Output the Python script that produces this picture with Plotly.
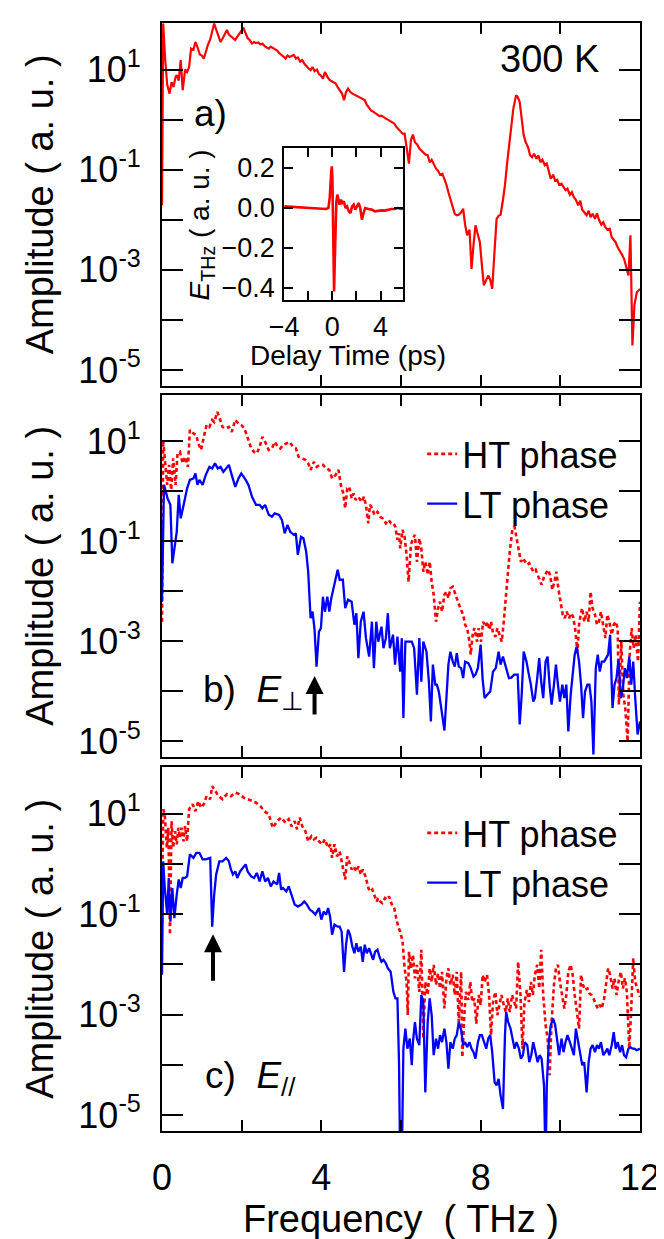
import plotly.graph_objects as go

# ---------------- data (frequency THz, log10 amplitude) ----------------
panel_a_300K = [
    (0.00, -1.71), (0.03, 1.92), (0.08, 1.2), (0.13, 0.7), (0.19, 0.52), (0.24, 0.75), (0.29, 0.65),
    (0.34, 0.85), (0.37, 0.89), (0.42, 0.78), (0.47, 1.19), (0.52, 0.59), (0.58, 1.0), (0.63, 0.95),
    (0.68, 1.05), (0.73, 1.42), (0.79, 1.40), (0.84, 1.55), (0.89, 1.45), (0.95, 1.30), (1.0, 1.28),
    (1.05, 1.22), (1.10, 1.35), (1.15, 1.49), (1.21, 1.60), (1.26, 1.75), (1.31, 1.92), (1.36, 1.80),
    (1.42, 1.65), (1.47, 1.55), (1.52, 1.62), (1.58, 1.72), (1.63, 1.79), (1.68, 1.70), (1.73, 1.66),
    (1.79, 1.62), (1.84, 1.59), (1.89, 1.66), (1.94, 1.72), (2.0, 1.78), (2.05, 1.82), (2.10, 1.72),
    (2.15, 1.63), (2.21, 1.58), (2.26, 1.52), (2.31, 1.55), (2.36, 1.53), (2.42, 1.54), (2.47, 1.50),
    (2.52, 1.52), (2.57, 1.47), (2.63, 1.44), (2.68, 1.42), (2.73, 1.46), (2.78, 1.43), (2.84, 1.40),
    (2.89, 1.38), (2.94, 1.33), (3.0, 1.30), (3.05, 1.26), (3.10, 1.22), (3.15, 1.28), (3.2, 1.25),
    (3.26, 1.27), (3.31, 1.29), (3.36, 1.22), (3.41, 1.24), (3.47, 1.16), (3.52, 1.19), (3.57, 1.12),
    (3.62, 1.07), (3.68, 1.02), (3.73, 0.99), (3.78, 1.05), (3.83, 0.97), (3.89, 1.0), (3.94, 0.91),
    (3.99, 0.88), (4.04, 0.82), (4.09, 0.95), (4.15, 0.86), (4.2, 0.80), (4.25, 0.77), (4.3, 0.74),
    (4.36, 0.72), (4.41, 0.65), (4.46, 0.60), (4.52, 0.52), (4.57, 0.39), (4.62, 0.55), (4.67, 0.62),
    (4.73, 0.55), (4.78, 0.52), (4.83, 0.50), (4.88, 0.47), (4.94, 0.45), (4.99, 0.42), (5.04, 0.40),
    (5.09, 0.39), (5.14, 0.30), (5.2, 0.22), (5.25, 0.18), (5.3, 0.16), (5.36, 0.12), (5.41, 0.10),
    (5.46, 0.07), (5.51, 0.08), (5.57, 0.04), (5.62, 0.02), (5.67, 0.0), (5.72, -0.02), (5.78, -0.06),
    (5.83, -0.08), (5.88, -0.14), (5.93, -0.18), (5.99, -0.22), (6.04, -0.28), (6.09, -0.28),
    (6.14, -0.55), (6.2, -0.88), (6.25, -0.40), (6.3, -0.30), (6.35, -0.45), (6.41, -0.50),
    (6.46, -0.58), (6.51, -0.62), (6.56, -0.66), (6.62, -0.70), (6.67, -0.71), (6.72, -0.85),
    (6.77, -0.80), (6.83, -0.90), (6.88, -0.98), (6.93, -1.02), (6.98, -1.10), (7.04, -1.08),
    (7.09, -1.18), (7.14, -1.30), (7.19, -1.45), (7.24, -1.58), (7.30, -1.75), (7.35, -1.88),
    (7.4, -1.91), (7.45, -1.90), (7.51, -1.85), (7.56, -1.78), (7.61, -2.1), (7.66, -2.31),
    (7.72, -2.2), (7.77, -2.98), (7.82, -2.5), (7.87, -2.11), (7.93, -2.3), (7.98, -2.45),
    (8.03, -2.9), (8.08, -3.31), (8.14, -3.2), (8.19, -3.11), (8.24, -3.2), (8.29, -3.38),
    (8.35, -2.6), (8.4, -1.98), (8.45, -1.92), (8.5, -1.90), (8.56, -1.6), (8.61, -1.31),
    (8.66, -0.9), (8.71, -0.58), (8.77, -0.2), (8.82, 0.22), (8.89, 0.49), (8.93, 0.45),
    (8.98, 0.35), (9.03, 0.0), (9.08, -0.31), (9.13, -0.45), (9.19, -0.55), (9.24, -0.71),
    (9.29, -0.75), (9.34, -0.68), (9.40, -0.78), (9.45, -0.72), (9.50, -0.85), (9.55, -0.80),
    (9.61, -0.91), (9.66, -0.88), (9.71, -1.05), (9.76, -1.18), (9.82, -1.10), (9.87, -1.22),
    (9.92, -1.20), (9.97, -1.30), (10.03, -1.28), (10.08, -1.35), (10.13, -1.41), (10.18, -1.38),
    (10.24, -1.50), (10.29, -1.45), (10.34, -1.55), (10.39, -1.60), (10.45, -1.71), (10.50, -1.62),
    (10.55, -1.80), (10.6, -1.85), (10.66, -1.91), (10.71, -1.82), (10.76, -1.95), (10.81, -1.88),
    (10.87, -1.98), (10.92, -1.87), (10.97, -2.0), (11.03, -2.1), (11.08, -2.05), (11.13, -2.15),
    (11.18, -2.2), (11.24, -2.18), (11.29, -2.35), (11.34, -2.40), (11.39, -2.45), (11.44, -2.55),
    (11.5, -2.62), (11.55, -2.7), (11.6, -2.78), (11.65, -2.95), (11.71, -3.11), (11.76, -2.31),
    (11.81, -4.51), (11.86, -3.7), (11.92, -3.45), (12.0, -3.38),
]

panel_b_ht = [
    (0.0, -2.61), (0.03, 1.03), (0.07, 0.66), (0.13, 0.13), (0.18, 0.53), (0.23, 0.03), (0.28, 0.66),
    (0.34, 0.13), (0.39, 0.76), (0.45, 0.79), (0.52, 0.56), (0.58, 0.69), (0.65, 0.49), (0.70, 1.23),
    (0.79, 1.16), (0.86, 1.13), (0.91, 0.96), (0.98, 0.83), (1.05, 1.09), (1.12, 1.33), (1.19, 1.29),
    (1.26, 1.43), (1.31, 1.39), (1.39, 1.59), (1.45, 1.46), (1.52, 1.29), (1.61, 1.26), (1.68, 1.29),
    (1.75, 1.19), (1.84, 1.43), (1.92, 1.36), (1.99, 1.33), (2.07, 1.26), (2.15, 1.09), (2.24, 0.86),
    (2.31, 0.79), (2.38, 0.76), (2.45, 0.89), (2.52, 1.09), (2.59, 0.99), (2.68, 0.83), (2.76, 0.86),
    (2.83, 0.99), (2.91, 0.89), (2.97, 0.86), (3.04, 0.93), (3.12, 0.96), (3.20, 0.99), (3.29, 0.89),
    (3.36, 0.86), (3.43, 0.69), (3.52, 0.66), (3.60, 0.63), (3.67, 0.56), (3.73, 0.43), (3.81, 0.59),
    (3.88, 0.49), (3.96, 0.53), (4.04, 0.53), (4.12, 0.46), (4.20, 0.43), (4.27, 0.26), (4.36, 0.33),
    (4.43, 0.43), (4.49, 0.13), (4.55, -0.04), (4.60, -0.34), (4.65, 0.06), (4.70, 0.09), (4.76, -0.14),
    (4.81, -0.04), (4.86, -0.17), (4.93, -0.11), (5.01, -0.21), (5.07, -0.11), (5.12, -0.27),
    (5.18, -0.64), (5.22, -0.27), (5.28, -0.34), (5.33, -0.47), (5.41, -0.41), (5.48, -0.51),
    (5.54, -0.54), (5.62, -0.64), (5.69, -0.57), (5.75, -0.64), (5.81, -0.64), (5.86, -0.71),
    (5.91, -0.97), (5.95, -0.84), (5.98, -1.14), (6.04, -0.77), (6.09, -0.91), (6.14, -1.27),
    (6.19, -1.81), (6.25, -1.07), (6.30, -0.94), (6.35, -0.87), (6.40, -1.41), (6.46, -0.94),
    (6.51, -1.14), (6.56, -1.61), (6.61, -1.41), (6.67, -1.67), (6.72, -1.41), (6.77, -1.81),
    (6.82, -2.07), (6.88, -2.61), (6.93, -2.34), (6.98, -2.21), (7.03, -2.41), (7.09, -2.07),
    (7.14, -2.01), (7.19, -2.14), (7.24, -1.94), (7.30, -1.91), (7.35, -2.04), (7.40, -2.14),
    (7.49, -2.34), (7.56, -2.47), (7.61, -2.67), (7.66, -2.74), (7.72, -3.01), (7.75, -3.27),
    (7.80, -2.87), (7.84, -2.74), (7.91, -3.01), (7.95, -2.74), (8.01, -3.01), (8.06, -2.61),
    (8.12, -2.71), (8.17, -2.61), (8.22, -2.77), (8.26, -2.61), (8.31, -2.84), (8.37, -2.91),
    (8.42, -2.74), (8.47, -2.87), (8.53, -3.01), (8.58, -2.61), (8.63, -2.07), (8.68, -1.67),
    (8.73, -1.21), (8.80, -0.74), (8.85, -0.71), (8.90, -0.91), (8.96, -1.14), (9.01, -1.41),
    (9.06, -1.34), (9.11, -1.41), (9.17, -1.47), (9.22, -1.44), (9.27, -1.54), (9.32, -1.61),
    (9.38, -1.57), (9.43, -1.67), (9.48, -1.77), (9.53, -1.87), (9.59, -1.71), (9.64, -1.64),
    (9.69, -1.57), (9.74, -1.67), (9.80, -1.97), (9.85, -1.81), (9.90, -1.61), (9.95, -1.94),
    (10.01, -2.27), (10.06, -2.47), (10.11, -2.54), (10.16, -2.41), (10.22, -2.54), (10.27, -2.44),
    (10.32, -2.51), (10.37, -2.74), (10.43, -3.21), (10.47, -2.67), (10.51, -2.47), (10.55, -2.34),
    (10.60, -2.61), (10.66, -2.41), (10.71, -2.61), (10.76, -2.01), (10.81, -2.34), (10.87, -2.47),
    (10.92, -2.67), (10.97, -2.61), (11.02, -2.41), (11.08, -2.67), (11.13, -2.94), (11.18, -2.47),
    (11.23, -2.61), (11.29, -2.87), (11.34, -2.67), (11.39, -2.61), (11.44, -2.74), (11.47, -4.27),
    (11.53, -3.01), (11.58, -4.07), (11.63, -4.34), (11.69, -5.01), (11.74, -3.27), (11.79, -2.74),
    (11.84, -3.14), (11.89, -2.87), (11.95, -3.41), (12.0, -2.21),
]

panel_b_lt = [
    (0.0, -2.21), (0.05, 0.13), (0.14, -0.14), (0.21, -0.27), (0.26, -1.44), (0.31, -1.14), (0.37, -0.81),
    (0.42, -0.07), (0.47, -0.54), (0.56, -0.21), (0.63, 0.06), (0.70, 0.23), (0.79, 0.26), (0.84, 0.36),
    (0.89, 0.13), (0.94, 0.23), (1.02, 0.13), (1.10, 0.33), (1.19, 0.49), (1.26, 0.46), (1.33, 0.56),
    (1.40, 0.46), (1.47, 0.49), (1.54, 0.39), (1.63, 0.49), (1.68, 0.53), (1.75, 0.33), (1.84, 0.09),
    (1.92, 0.26), (1.99, 0.36), (2.10, 0.23), (2.17, 0.13), (2.26, -0.11), (2.36, -0.27), (2.45, -0.27),
    (2.52, -0.34), (2.59, -0.27), (2.68, -0.47), (2.76, -0.51), (2.83, -0.44), (2.94, -0.47),
    (3.01, -0.57), (3.08, -0.84), (3.15, -0.67), (3.22, -0.81), (3.31, -0.87), (3.36, -0.84),
    (3.41, -1.27), (3.49, -0.91), (3.55, -0.94), (3.62, -1.21), (3.67, -1.61), (3.73, -2.54),
    (3.78, -2.41), (3.83, -2.77), (3.88, -3.51), (3.94, -2.81), (3.99, -2.74), (4.04, -2.11),
    (4.09, -2.41), (4.15, -2.11), (4.20, -2.41), (4.25, -2.14), (4.34, -1.81), (4.41, -1.57),
    (4.46, -1.77), (4.54, -1.77), (4.60, -2.34), (4.67, -2.17), (4.76, -2.21), (4.83, -2.67),
    (4.88, -2.44), (4.93, -3.34), (4.99, -2.61), (5.06, -2.41), (5.12, -2.94), (5.20, -3.31),
    (5.27, -2.61), (5.32, -3.54), (5.38, -2.61), (5.43, -3.01), (5.51, -2.71), (5.56, -3.14),
    (5.62, -2.94), (5.67, -2.44), (5.72, -3.14), (5.80, -2.87), (5.85, -3.47), (5.91, -2.91),
    (5.98, -3.61), (6.02, -2.94), (6.06, -4.54), (6.11, -3.01), (6.19, -3.01), (6.27, -3.01),
    (6.33, -3.14), (6.40, -4.07), (6.46, -2.94), (6.51, -3.81), (6.56, -3.01), (6.64, -3.21),
    (6.70, -3.81), (6.75, -4.61), (6.80, -3.47), (6.86, -3.87), (6.90, -3.87), (6.95, -4.01),
    (7.01, -4.34), (7.09, -4.79), (7.14, -4.14), (7.19, -3.47), (7.24, -3.21), (7.30, -3.41),
    (7.35, -3.51), (7.40, -3.24), (7.45, -3.51), (7.51, -3.54), (7.56, -3.74), (7.61, -3.41),
    (7.69, -3.44), (7.75, -3.54), (7.82, -3.71), (7.87, -3.67), (7.93, -3.54), (8.00, -3.07),
    (8.05, -3.77), (8.10, -4.14), (8.17, -4.07), (8.24, -4.01), (8.31, -3.61), (8.38, -3.54),
    (8.45, -3.21), (8.50, -3.47), (8.56, -3.31), (8.63, -3.54), (8.71, -3.74), (8.77, -3.73),
    (8.84, -3.67), (8.89, -3.67), (8.93, -3.67), (8.98, -4.67), (9.03, -4.07), (9.08, -3.21),
    (9.15, -3.41), (9.21, -3.67), (9.26, -3.87), (9.32, -4.21), (9.36, -4.14), (9.42, -3.74),
    (9.47, -3.34), (9.52, -3.81), (9.57, -4.14), (9.63, -3.41), (9.68, -3.31), (9.73, -3.87),
    (9.78, -4.27), (9.84, -3.87), (9.89, -3.47), (9.94, -3.87), (9.99, -4.21), (10.05, -3.87),
    (10.10, -4.14), (10.15, -3.87), (10.20, -4.81), (10.26, -4.07), (10.31, -3.61), (10.36, -3.27),
    (10.41, -3.11), (10.47, -3.41), (10.52, -3.87), (10.57, -4.54), (10.62, -4.01), (10.68, -3.87),
    (10.73, -3.87), (10.78, -4.21), (10.83, -5.27), (10.89, -3.54), (10.94, -3.27), (10.99, -3.61),
    (11.04, -3.41), (11.10, -3.41), (11.15, -3.34), (11.20, -3.27), (11.25, -2.87), (11.31, -4.34),
    (11.36, -3.87), (11.41, -3.74), (11.46, -3.37), (11.52, -4.14), (11.57, -3.94), (11.62, -3.54),
    (11.67, -3.74), (11.73, -3.31), (11.78, -3.87), (11.83, -3.41), (11.88, -4.14), (11.94, -4.87),
    (12.0, -4.61),
]

panel_c_ht = [
    (0.0, -1.15), (0.03, 1.09), (0.07, 0.99), (0.12, 0.32), (0.16, 0.72), (0.20, -1.41), (0.24, 0.85),
    (0.28, 0.32), (0.33, 0.65), (0.37, 0.39), (0.41, 0.72), (0.45, 0.52), (0.49, 0.72), (0.54, 0.45),
    (0.58, 0.75), (0.63, 0.45), (0.68, 1.09), (0.77, 1.19), (0.84, 1.05), (0.91, 1.25), (0.98, 1.12),
    (1.05, 1.19), (1.12, 1.35), (1.21, 1.29), (1.26, 1.55), (1.33, 1.45), (1.42, 1.35), (1.52, 1.29),
    (1.63, 1.39), (1.73, 1.35), (1.84, 1.42), (1.94, 1.39), (2.05, 1.32), (2.15, 1.29), (2.26, 1.25),
    (2.36, 1.22), (2.47, 1.15), (2.57, 1.05), (2.68, 0.99), (2.78, 0.72), (2.89, 0.85), (2.99, 0.92),
    (3.10, 0.82), (3.18, 0.89), (3.25, 0.75), (3.33, 0.85), (3.39, 0.69), (3.46, 0.92), (3.52, 0.75),
    (3.60, 0.65), (3.67, 0.45), (3.75, 0.55), (3.81, 0.49), (3.88, 0.52), (3.94, 0.45), (4.02, 0.39),
    (4.09, 0.49), (4.17, 0.32), (4.23, 0.39), (4.27, 0.12), (4.33, 0.39), (4.39, 0.15), (4.46, 0.25),
    (4.54, -0.05), (4.60, -0.31), (4.65, 0.15), (4.70, 0.02), (4.76, -0.11), (4.81, -0.05),
    (4.88, -0.15), (4.93, -0.05), (4.99, -0.21), (5.04, -0.11), (5.11, -0.25), (5.18, -0.48),
    (5.22, -0.55), (5.28, -0.51), (5.33, -0.61), (5.39, -0.75), (5.43, -0.68), (5.48, -0.75),
    (5.53, -0.78), (5.60, -0.68), (5.65, -0.71), (5.70, -0.65), (5.77, -0.81), (5.83, -0.88),
    (5.88, -1.08), (5.93, -1.25), (5.98, -1.35), (6.04, -1.55), (6.09, -2.08), (6.14, -2.35),
    (6.17, -3.01), (6.20, -1.75), (6.25, -2.08), (6.30, -1.81), (6.35, -2.28), (6.40, -2.01),
    (6.46, -2.55), (6.51, -1.71), (6.56, -3.48), (6.61, -2.35), (6.67, -2.61), (6.72, -2.08),
    (6.77, -2.35), (6.82, -2.01), (6.88, -2.41), (6.93, -2.18), (6.98, -2.48), (7.03, -2.15),
    (7.09, -2.88), (7.14, -2.28), (7.19, -2.08), (7.24, -2.41), (7.30, -2.21), (7.35, -2.61),
    (7.40, -2.15), (7.45, -3.15), (7.51, -2.15), (7.54, -3.85), (7.59, -3.01), (7.63, -2.55),
    (7.69, -2.71), (7.74, -2.35), (7.79, -2.75), (7.84, -2.68), (7.89, -3.18), (7.95, -2.61),
    (8.00, -2.81), (8.05, -2.21), (8.10, -2.35), (8.16, -2.21), (8.21, -2.61), (8.26, -3.41),
    (8.31, -2.75), (8.37, -2.55), (8.42, -3.01), (8.47, -2.78), (8.52, -2.61), (8.58, -2.81),
    (8.63, -2.95), (8.68, -2.68), (8.73, -2.95), (8.79, -2.61), (8.84, -2.75), (8.89, -2.88),
    (8.94, -1.95), (9.00, -2.61), (9.05, -3.68), (9.10, -2.75), (9.16, -2.51), (9.21, -2.75),
    (9.26, -2.35), (9.31, -2.61), (9.36, -2.21), (9.42, -2.01), (9.47, -2.48), (9.52, -1.71),
    (9.57, -2.61), (9.63, -3.21), (9.68, -3.48), (9.73, -4.21), (9.78, -3.15), (9.84, -2.41),
    (9.89, -2.08), (9.94, -2.01), (9.99, -2.35), (10.05, -2.61), (10.10, -2.88), (10.15, -2.61),
    (10.20, -2.15), (10.26, -2.01), (10.31, -2.21), (10.36, -2.61), (10.41, -2.88), (10.47, -3.28),
    (10.52, -2.21), (10.57, -2.41), (10.62, -2.51), (10.68, -2.48), (10.73, -2.58), (10.78, -2.61),
    (10.83, -2.68), (10.89, -2.81), (10.94, -2.88), (10.99, -2.81), (11.04, -2.88), (11.10, -2.68),
    (11.15, -2.35), (11.20, -2.08), (11.25, -2.21), (11.31, -2.48), (11.36, -2.28), (11.41, -2.61),
    (11.46, -2.35), (11.52, -2.15), (11.57, -2.48), (11.62, -2.28), (11.67, -2.55), (11.73, -3.68),
    (11.78, -2.88), (11.83, -1.88), (11.88, -2.35), (11.94, -2.48), (12.0, -2.65),
]

panel_c_lt = [
    (0.0, -2.21), (0.03, 0.05), (0.07, -0.48), (0.13, -1.01), (0.17, -0.28), (0.21, -1.15), (0.26, -0.48),
    (0.31, -1.08), (0.37, -0.61), (0.42, -0.31), (0.47, -0.48), (0.52, -0.28), (0.58, -0.28),
    (0.63, -0.25), (0.70, 0.19), (0.79, 0.12), (0.86, 0.22), (0.94, 0.22), (1.02, 0.09), (1.10, 0.09),
    (1.21, 0.12), (1.26, -1.25), (1.31, -0.61), (1.36, -0.21), (1.44, 0.05), (1.52, 0.05), (1.61, 0.12),
    (1.68, 0.05), (1.73, -0.11), (1.78, -0.21), (1.84, -0.15), (1.89, -0.28), (1.96, -0.15),
    (2.03, -0.08), (2.10, -0.01), (2.15, -0.15), (2.24, -0.25), (2.31, -0.28), (2.38, -0.18),
    (2.45, -0.35), (2.52, -0.15), (2.59, -0.35), (2.66, -0.28), (2.73, -0.45), (2.80, -0.35),
    (2.89, -0.41), (2.94, -0.18), (2.99, -0.51), (3.04, -0.48), (3.12, -0.55), (3.18, -0.45),
    (3.25, -0.61), (3.33, -0.81), (3.41, -0.85), (3.50, -0.81), (3.57, -0.75), (3.64, -0.81),
    (3.71, -0.91), (3.78, -0.95), (3.85, -1.01), (3.94, -0.88), (4.00, -1.11), (4.06, -0.95),
    (4.12, -1.01), (4.17, -0.88), (4.22, -1.05), (4.27, -1.41), (4.33, -1.21), (4.41, -1.25),
    (4.46, -1.25), (4.51, -1.35), (4.57, -2.15), (4.62, -1.61), (4.67, -1.31), (4.72, -1.41),
    (4.78, -1.65), (4.83, -1.78), (4.88, -1.58), (4.93, -1.75), (4.99, -1.65), (5.04, -1.95),
    (5.09, -1.61), (5.14, -1.78), (5.20, -1.68), (5.25, -1.81), (5.30, -1.91), (5.35, -1.75),
    (5.41, -1.71), (5.46, -1.85), (5.51, -1.95), (5.56, -1.91), (5.62, -1.98), (5.67, -2.08),
    (5.74, -2.15), (5.81, -2.55), (5.86, -2.68), (5.91, -2.68), (5.95, -3.95), (5.98, -6.0),
    (6.02, -6.0), (6.06, -3.68), (6.11, -3.28), (6.16, -3.68), (6.22, -3.48), (6.27, -4.01),
    (6.30, -3.55), (6.35, -3.15), (6.40, -3.48), (6.46, -3.61), (6.51, -2.61), (6.56, -2.75),
    (6.61, -4.55), (6.67, -3.15), (6.72, -2.68), (6.77, -3.01), (6.82, -3.81), (6.88, -3.48),
    (6.93, -3.68), (6.98, -3.41), (7.03, -3.55), (7.09, -3.28), (7.14, -3.55), (7.19, -4.08),
    (7.24, -3.55), (7.30, -3.68), (7.35, -3.48), (7.40, -3.41), (7.45, -3.15), (7.51, -3.31),
    (7.56, -3.61), (7.61, -3.55), (7.66, -3.65), (7.72, -3.55), (7.77, -3.68), (7.82, -3.75),
    (7.87, -3.88), (7.93, -3.55), (7.98, -3.41), (8.03, -3.41), (8.08, -3.55), (8.14, -3.68),
    (8.19, -3.48), (8.24, -3.41), (8.29, -3.75), (8.35, -4.35), (8.40, -4.41), (8.45, -4.28),
    (8.50, -4.61), (8.56, -4.88), (8.61, -3.41), (8.64, -2.95), (8.69, -3.15), (8.75, -3.28),
    (8.80, -3.48), (8.85, -3.68), (8.90, -3.55), (8.96, -3.68), (9.01, -3.88), (9.06, -3.81),
    (9.11, -3.55), (9.17, -3.61), (9.22, -3.95), (9.27, -3.81), (9.32, -3.55), (9.38, -3.75),
    (9.43, -3.95), (9.48, -3.81), (9.53, -3.88), (9.59, -4.41), (9.63, -6.0), (9.66, -4.41),
    (9.71, -3.55), (9.76, -3.21), (9.82, -3.08), (9.87, -3.21), (9.92, -3.55), (9.97, -3.81),
    (10.03, -3.48), (10.08, -3.75), (10.13, -3.55), (10.18, -3.41), (10.24, -3.55), (10.29, -3.68),
    (10.34, -3.81), (10.39, -3.28), (10.45, -3.55), (10.50, -3.75), (10.55, -4.01), (10.60, -3.95),
    (10.66, -4.55), (10.71, -3.95), (10.76, -3.68), (10.81, -3.61), (10.87, -3.75), (10.92, -3.61),
    (10.97, -3.68), (11.02, -3.55), (11.08, -3.81), (11.13, -3.75), (11.18, -3.68), (11.23, -3.81),
    (11.29, -3.61), (11.34, -3.35), (11.39, -3.68), (11.44, -3.55), (11.50, -3.75), (11.55, -3.61),
    (11.60, -3.81), (11.65, -3.85), (11.71, -3.68), (11.76, -3.65), (11.81, -3.68), (11.86, -3.68),
    (11.92, -3.71), (12.0, -3.68),
]

# inset: delay time (ps), E_THz (a.u.)
inset_waveform = [
    (-4.0, 0.008), (-3.27, 0.005), (-2.45, 0.003), (-1.63, 0.0), (-0.95, -0.003), (-0.54, -0.005),
    (-0.33, 0.0), (-0.22, 0.05), (-0.11, 0.167), (-0.05, 0.208), (0.0, 0.15), (0.05, -0.033),
    (0.11, -0.317), (0.14, -0.417), (0.19, -0.283), (0.24, -0.083), (0.33, 0.033), (0.41, 0.067),
    (0.49, 0.05), (0.60, 0.017), (0.71, 0.042), (0.82, 0.025), (0.95, 0.033), (1.09, 0.0),
    (1.22, 0.008), (1.36, -0.017), (1.50, -0.025), (1.63, 0.008), (1.77, 0.017), (1.90, -0.008),
    (2.04, 0.008), (2.18, 0.025), (2.31, 0.0), (2.45, -0.058), (2.59, -0.025), (2.72, 0.0),
    (2.99, -0.005), (3.27, -0.008), (3.54, -0.017), (3.81, -0.013), (4.08, -0.012), (4.35, -0.013),
    (4.63, -0.008), (4.90, -0.005), (5.17, -0.005), (5.44, 0.0), (5.71, -0.005), (5.93, -0.003),
]

freq_major = [0, 4, 8, 12]
freq_minor = [2, 6, 10]
amp_major = [1e-5, 1e-3, 1e-1, 10]
amp_major_text = ["10<sup>-5</sup>", "10<sup>-3</sup>", "10<sup>-1</sup>", "10<sup>1</sup>"]
amp_minor = [1e-4, 1e-2, 1]
delay_major = [-4, 0, 4]
delay_minor = [-2, 2]
field_ticks = [-0.4, -0.2, 0.0, 0.2]

# ---------------- figure ----------------
W, H = 664, 1239
ML, MR, MT, MB = 154, 25, 15, 116
plot_h = H - MT - MB
plot_w = W - ML - MR


def py(px):  # page y pixel -> paper fraction
    return (H - MB - px) / plot_h


def px_(xp):  # page x pixel -> paper fraction
    return (xp - ML) / plot_w


FONT = "Liberation Sans, Arial, sans-serif"
RED = "#ff0000"
BLUE = "#0000ff"


def split(pairs):
    xs = [p[0] for p in pairs]
    ys = [10 ** p[1] for p in pairs]
    return xs, ys


fig = go.Figure()

x, y = split(panel_a_300K)
fig.add_trace(go.Scatter(x=x, y=y, mode="lines", line=dict(color=RED, width=2.2),
                         showlegend=False, xaxis="x", yaxis="y"))

x, y = split(panel_b_ht)
fig.add_trace(go.Scatter(x=x, y=y, mode="lines", name="HT phase",
                         line=dict(color=RED, width=2.6, dash="4px,3px"),
                         xaxis="x2", yaxis="y2", legend="legend"))
x, y = split(panel_b_lt)
fig.add_trace(go.Scatter(x=x, y=y, mode="lines", name="LT phase",
                         line=dict(color=BLUE, width=2.3),
                         xaxis="x2", yaxis="y2", legend="legend"))

x, y = split(panel_c_ht)
fig.add_trace(go.Scatter(x=x, y=y, mode="lines", name="HT phase",
                         line=dict(color=RED, width=2.6, dash="4px,3px"),
                         xaxis="x3", yaxis="y3", legend="legend2"))
x, y = split(panel_c_lt)
fig.add_trace(go.Scatter(x=x, y=y, mode="lines", name="LT phase",
                         line=dict(color=BLUE, width=2.3),
                         xaxis="x3", yaxis="y3", legend="legend2"))

fig.add_trace(go.Scatter(x=[p[0] for p in inset_waveform], y=[p[1] for p in inset_waveform],
                         mode="lines", line=dict(color=RED, width=2.6),
                         showlegend=False, xaxis="x4", yaxis="y4"))

axis_common = dict(showline=True, linecolor="black", linewidth=2, mirror="ticks",
                   ticks="inside", tickcolor="black", tickwidth=2, showgrid=False,
                   zeroline=False, tickfont=dict(family=FONT, size=36, color="black"))

dom_a = [py(378), py(15)]
dom_b = [py(749), py(387)]
dom_c = [py(1123), py(759)]

xcommon = dict(axis_common, range=[0, 12], tickmode="array", tickvals=freq_major,
               ticklen=11,
               minor=dict(tickmode="array", tickvals=freq_minor, ticks="inside", ticklen=11,
                          tickwidth=2, tickcolor="black", showgrid=False))
ycommon = dict(axis_common, type="log", range=[-5.32, 1.93], tickmode="array",
               tickvals=amp_major, ticktext=amp_major_text, ticklen=21, ticklabelstandoff=12,
               minor=dict(tickmode="array", tickvals=amp_minor, ticks="inside", ticklen=21,
                          tickwidth=2, tickcolor="black", showgrid=False))

LEG_FONT = dict(family=FONT, size=36)

fig.update_layout(
    width=W, height=H,
    margin=dict(l=ML, r=MR, t=MT, b=MB),
    paper_bgcolor="white", plot_bgcolor="white",
    font=dict(family=FONT, color="black"),
    xaxis=dict(xcommon, domain=[0, 1], anchor="y", showticklabels=False),
    yaxis=dict(ycommon, domain=dom_a, anchor="x"),
    xaxis2=dict(xcommon, domain=[0, 1], anchor="y2", matches="x", showticklabels=False),
    yaxis2=dict(ycommon, domain=dom_b, anchor="x2"),
    xaxis3=dict(xcommon, domain=[0, 1], anchor="y3", matches="x", ticklabelstandoff=14,
                title=dict(text="Frequency\u00a0 ( THz )", font=dict(family=FONT, size=38),
                           standoff=4)),
    yaxis3=dict(ycommon, domain=dom_c, anchor="x3"),
    xaxis4=dict(axis_common, domain=[px_(278), px_(399)], anchor="y4", range=[-4, 5.9],
                tickmode="array", tickvals=delay_major, ticklen=9,
                minor=dict(tickmode="array", tickvals=delay_minor, ticks="inside", ticklen=9,
                           tickwidth=2, tickcolor="black", showgrid=False),
                tickfont=dict(family=FONT, size=27, color="black"), ticklabelstandoff=2),
    yaxis4=dict(axis_common, domain=[py(292), py(140)], anchor="x4", range=[-0.46, 0.30],
                tickmode="array", tickvals=field_ticks, tickformat=".1f", ticklen=9,
                tickfont=dict(family=FONT, size=27, color="black"), ticklabelstandoff=2),
    legend=dict(x=px_(418), y=py(416), xanchor="left", yanchor="top",
                bgcolor="rgba(0,0,0,0)", font=LEG_FONT, tracegroupgap=0),
    legend2=dict(x=px_(418), y=py(795), xanchor="left", yanchor="top",
                 bgcolor="rgba(0,0,0,0)", font=LEG_FONT, tracegroupgap=0),
)

ann = []
for yc in [(15 + 378) / 2, (387 + 749) / 2, (759 + 1123) / 2]:
    ann.append(dict(text="Amplitude ( a. u. )", xref="paper", yref="paper",
                    x=px_(30), y=py(yc), textangle=-90, showarrow=False,
                    xanchor="center", yanchor="middle", font=dict(family=FONT, size=38)))
ann += [
    dict(text="300 K", xref="paper", yref="paper", x=px_(547), y=py(51), showarrow=False,
         xanchor="center", yanchor="middle", font=dict(family=FONT, size=38)),
    dict(text="a)", xref="paper", yref="paper", x=px_(203), y=py(106), showarrow=False,
         xanchor="center", yanchor="middle", font=dict(family=FONT, size=37)),
    dict(text="b)\u00a0 <i>E</i><sub>\u22a5</sub>", xref="paper", yref="paper", x=px_(194),
         y=py(684), showarrow=False, xanchor="left", yanchor="middle",
         font=dict(family=FONT, size=37)),
    dict(text="c)\u00a0 <i>E</i><sub>//</sub>", xref="paper", yref="paper", x=px_(196),
         y=py(1070), showarrow=False, xanchor="left", yanchor="middle",
         font=dict(family=FONT, size=37)),
    dict(text="Delay Time (ps)", xref="paper", yref="paper", x=px_(343), y=py(347),
         showarrow=False, xanchor="center", yanchor="middle", font=dict(family=FONT, size=28)),
    dict(text="<i>E</i><sub>THz</sub> ( a. u. )", xref="paper", yref="paper", x=px_(194),
         y=py(217), textangle=-90, showarrow=False, xanchor="center", yanchor="middle",
         font=dict(family=FONT, size=28)),
    # arrows marking the dips
    dict(text="", xref="x2", yref="y2", x=3.83, y=-3.70, ax=0, ay=40, showarrow=True,
         arrowhead=2, arrowsize=0.9, arrowwidth=4, arrowcolor="black"),
    dict(text="", xref="x3", yref="y3", x=1.28, y=-1.40, ax=0, ay=48, showarrow=True,
         arrowhead=2, arrowsize=0.9, arrowwidth=4, arrowcolor="black"),
]
fig.update_layout(annotations=ann)

fig.write_html("out.html")
